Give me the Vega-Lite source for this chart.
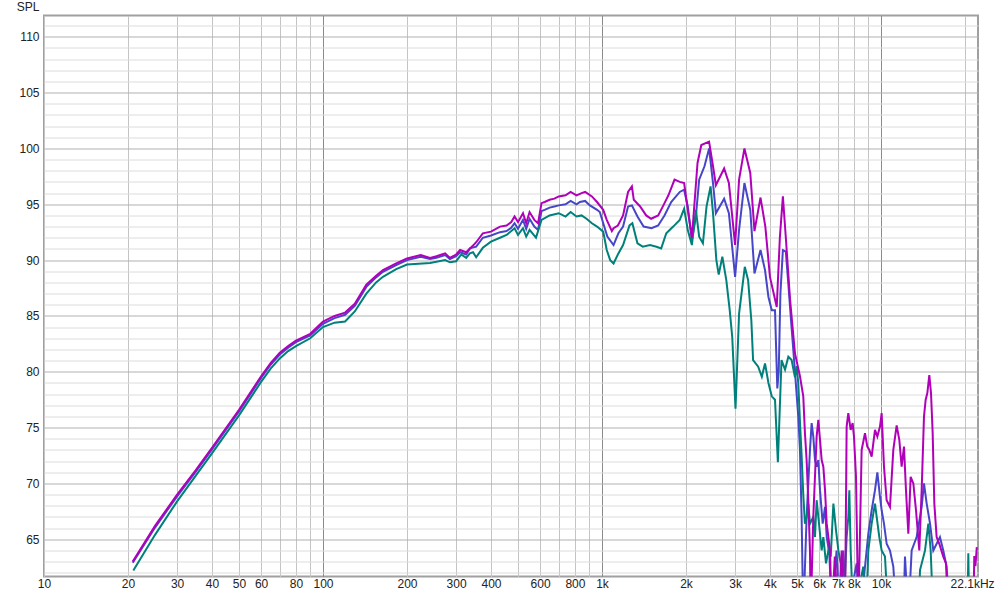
{
"$schema": "https://vega.github.io/schema/vega-lite/v6.json",
"width": 934, "height": 561, "autosize": "none",
"padding": {"left": 44, "top": 15.5, "right": 22, "bottom": 20.5},
"background": "white",
"config": {"view": {"stroke": "#a0a0a0", "strokeWidth": 2}, "font": "Liberation Sans"},
"data": {"values": [
{"s":"B","f":20.8,"v":62.9},{"s":"B","f":25,"v":66.05},{"s":"B","f":30,"v":68.85},{"s":"B","f":35,"v":71.05},{"s":"B","f":40,"v":73.05},{"s":"B","f":50,"v":76.45},{"s":"B","f":60,"v":79.45},{"s":"B","f":65,"v":80.65},{"s":"B","f":70,"v":81.55},{"s":"B","f":75,"v":82.15},{"s":"B","f":80,"v":82.65},{"s":"B","f":90,"v":83.25},{"s":"B","f":100,"v":84.3},{"s":"B","f":110,"v":84.8},{"s":"B","f":120,"v":85.1},{"s":"B","f":130,"v":85.9},{"s":"B","f":143,"v":87.6},{"s":"B","f":155,"v":88.45},{"s":"B","f":164,"v":88.95},{"s":"B","f":183,"v":89.55},{"s":"B","f":200,"v":90.0},{"s":"B","f":224,"v":90.3},{"s":"B","f":242,"v":90.1},{"s":"B","f":255,"v":90.2},{"s":"B","f":274,"v":90.45},{"s":"B","f":285,"v":90.1},{"s":"B","f":300,"v":90.35},{"s":"B","f":310,"v":90.7},{"s":"B","f":326,"v":90.5},{"s":"B","f":336,"v":91.05},{"s":"B","f":354,"v":91.2},{"s":"B","f":374,"v":92.0},{"s":"B","f":400,"v":92.2},{"s":"B","f":431,"v":92.5},{"s":"B","f":455,"v":92.6},{"s":"B","f":473,"v":92.9},{"s":"B","f":486,"v":93.3},{"s":"B","f":500,"v":92.8},{"s":"B","f":521,"v":93.6},{"s":"B","f":535,"v":92.8},{"s":"B","f":550,"v":93.7},{"s":"B","f":572,"v":93.0},{"s":"B","f":590,"v":92.7},{"s":"B","f":607,"v":94.4},{"s":"B","f":623,"v":94.5},{"s":"B","f":649,"v":94.7},{"s":"B","f":675,"v":94.8},{"s":"B","f":700,"v":94.9},{"s":"B","f":740,"v":95.0},{"s":"B","f":772,"v":95.3},{"s":"B","f":810,"v":95.0},{"s":"B","f":834,"v":95.2},{"s":"B","f":870,"v":95.3},{"s":"B","f":905,"v":94.9},{"s":"B","f":960,"v":94.5},{"s":"B","f":982,"v":94.3},{"s":"B","f":1045,"v":92.1},{"s":"B","f":1100,"v":91.35},{"s":"B","f":1145,"v":92.4},{"s":"B","f":1190,"v":93.0},{"s":"B","f":1240,"v":94.8},{"s":"B","f":1280,"v":94.9},{"s":"B","f":1340,"v":93.9},{"s":"B","f":1410,"v":93.0},{"s":"B","f":1505,"v":92.85},{"s":"B","f":1590,"v":93.1},{"s":"B","f":1675,"v":94.0},{"s":"B","f":1770,"v":95.2},{"s":"B","f":1900,"v":96.1},{"s":"B","f":1970,"v":96.3},{"s":"B","f":2030,"v":94.8},{"s":"B","f":2100,"v":91.8},{"s":"B","f":2170,"v":93.9},{"s":"B","f":2230,"v":97.2},{"s":"B","f":2330,"v":98.4},{"s":"B","f":2420,"v":100.0},{"s":"B","f":2500,"v":96.9},{"s":"B","f":2560,"v":94.2},{"s":"B","f":2740,"v":95.5},{"s":"B","f":2850,"v":94.2},{"s":"B","f":3000,"v":88.5},{"s":"B","f":3100,"v":92.7},{"s":"B","f":3240,"v":96.9},{"s":"B","f":3400,"v":94.5},{"s":"B","f":3520,"v":88.8},{"s":"B","f":3700,"v":90.9},{"s":"B","f":3840,"v":89.1},{"s":"B","f":3950,"v":86.7},{"s":"B","f":4060,"v":85.5},{"s":"B","f":4170,"v":85.5},{"s":"B","f":4250,"v":78.5},{"s":"B","f":4300,"v":80},{"s":"B","f":4360,"v":87},{"s":"B","f":4450,"v":90.9},{"s":"B","f":4560,"v":90.75},{"s":"B","f":4650,"v":88.0},{"s":"B","f":4780,"v":84.0},{"s":"B","f":4917,"v":80.0},{"s":"B","f":4984,"v":78.0},{"s":"B","f":5053,"v":76.0},{"s":"B","f":5124,"v":73.0},{"s":"B","f":5194,"v":67.0},{"s":"B","f":5266,"v":58},{"s":"B","f":5413,"v":67.0},{"s":"B","f":5565,"v":73.0},{"s":"B","f":5642,"v":75.4},{"s":"B","f":5720,"v":74.2},{"s":"B","f":5800,"v":72.1},{"s":"B","f":5880,"v":71.5},{"s":"B","f":5962,"v":72.1},{"s":"B","f":6045,"v":69.4},{"s":"B","f":6180,"v":66.4},{"s":"B","f":6301,"v":67.9},{"s":"B","f":6389,"v":65.2},{"s":"B","f":6531,"v":63.75},{"s":"B","f":6659,"v":58},{"s":"B","f":6930,"v":64},{"s":"B","f":7130,"v":58},{"s":"B","f":7328,"v":64},{"s":"B","f":7532,"v":58},{"s":"B","f":8180,"v":62.85},{"s":"B","f":8400,"v":58},{"s":"B","f":9008,"v":65.5},{"s":"B","f":9259,"v":67.6},{"s":"B","f":9517,"v":69.4},{"s":"B","f":9704,"v":71.0},{"s":"B","f":9918,"v":68.8},{"s":"B","f":10055,"v":67.6},{"s":"B","f":10251,"v":66.4},{"s":"B","f":10478,"v":64.6},{"s":"B","f":10771,"v":64.0},{"s":"B","f":11071,"v":62.55},{"s":"B","f":11380,"v":58},{"s":"B","f":12000,"v":57},{"s":"B","f":12190,"v":63.45},{"s":"B","f":12532,"v":58},{"s":"B","f":12880,"v":64},{"s":"B","f":13420,"v":65.2},{"s":"B","f":13990,"v":67.9},{"s":"B","f":14260,"v":70.0},{"s":"B","f":14580,"v":68.2},{"s":"B","f":14990,"v":66.4},{"s":"B","f":15400,"v":64},{"s":"B","f":15830,"v":64.6},{"s":"B","f":16270,"v":65.2},{"s":"B","f":16720,"v":64},{"s":"B","f":17190,"v":62.55},{"s":"B","f":17670,"v":58},
{"s":"T","f":20.9,"v":62.2},{"s":"T","f":25,"v":65.4},{"s":"T","f":30,"v":68.4},{"s":"T","f":35,"v":70.7},{"s":"T","f":40,"v":72.7},{"s":"T","f":50,"v":76.1},{"s":"T","f":60,"v":79.1},{"s":"T","f":65,"v":80.3},{"s":"T","f":70,"v":81.2},{"s":"T","f":75,"v":81.85},{"s":"T","f":80,"v":82.3},{"s":"T","f":90,"v":83.0},{"s":"T","f":100,"v":84.0},{"s":"T","f":110,"v":84.4},{"s":"T","f":120,"v":84.5},{"s":"T","f":130,"v":85.4},{"s":"T","f":143,"v":87.0},{"s":"T","f":155,"v":88.0},{"s":"T","f":164,"v":88.5},{"s":"T","f":183,"v":89.2},{"s":"T","f":200,"v":89.6},{"s":"T","f":242,"v":89.75},{"s":"T","f":274,"v":90.0},{"s":"T","f":285,"v":89.8},{"s":"T","f":300,"v":89.9},{"s":"T","f":313,"v":90.5},{"s":"T","f":326,"v":90.2},{"s":"T","f":336,"v":90.6},{"s":"T","f":345,"v":90.7},{"s":"T","f":354,"v":90.25},{"s":"T","f":374,"v":91.1},{"s":"T","f":400,"v":91.65},{"s":"T","f":431,"v":92.0},{"s":"T","f":455,"v":92.25},{"s":"T","f":486,"v":92.85},{"s":"T","f":500,"v":92.25},{"s":"T","f":521,"v":92.85},{"s":"T","f":535,"v":92.1},{"s":"T","f":550,"v":92.7},{"s":"T","f":580,"v":92.0},{"s":"T","f":607,"v":93.6},{"s":"T","f":649,"v":94.0},{"s":"T","f":700,"v":94.2},{"s":"T","f":740,"v":93.9},{"s":"T","f":772,"v":94.3},{"s":"T","f":810,"v":93.9},{"s":"T","f":845,"v":94.0},{"s":"T","f":880,"v":93.7},{"s":"T","f":920,"v":93.3},{"s":"T","f":960,"v":93.0},{"s":"T","f":1010,"v":92.55},{"s":"T","f":1040,"v":90.9},{"s":"T","f":1070,"v":90.0},{"s":"T","f":1100,"v":89.7},{"s":"T","f":1145,"v":90.6},{"s":"T","f":1190,"v":91.35},{"s":"T","f":1255,"v":93.1},{"s":"T","f":1285,"v":93.3},{"s":"T","f":1340,"v":91.5},{"s":"T","f":1400,"v":91.2},{"s":"T","f":1486,"v":91.35},{"s":"T","f":1568,"v":91.2},{"s":"T","f":1630,"v":91.05},{"s":"T","f":1700,"v":92.4},{"s":"T","f":1800,"v":93.0},{"s":"T","f":1900,"v":93.6},{"s":"T","f":1970,"v":94.6},{"s":"T","f":2030,"v":92.7},{"s":"T","f":2100,"v":91.35},{"s":"T","f":2170,"v":94.5},{"s":"T","f":2230,"v":92.1},{"s":"T","f":2300,"v":91.5},{"s":"T","f":2370,"v":94.8},{"s":"T","f":2450,"v":96.6},{"s":"T","f":2500,"v":94.2},{"s":"T","f":2570,"v":90.0},{"s":"T","f":2620,"v":88.7},{"s":"T","f":2700,"v":90.3},{"s":"T","f":2790,"v":88.2},{"s":"T","f":2870,"v":85.5},{"s":"T","f":2930,"v":83.1},{"s":"T","f":3010,"v":76.7},{"s":"T","f":3100,"v":85.2},{"s":"T","f":3250,"v":89.4},{"s":"T","f":3340,"v":88.2},{"s":"T","f":3430,"v":84.6},{"s":"T","f":3480,"v":81.05},{"s":"T","f":3630,"v":80.45},{"s":"T","f":3740,"v":79.55},{"s":"T","f":3840,"v":80.75},{"s":"T","f":3950,"v":79.0},{"s":"T","f":4060,"v":77.8},{"s":"T","f":4170,"v":77.5},{"s":"T","f":4270,"v":71.9},{"s":"T","f":4400,"v":81.05},{"s":"T","f":4530,"v":80.2},{"s":"T","f":4655,"v":81.35},{"s":"T","f":4783,"v":81.05},{"s":"T","f":4917,"v":79.5},{"s":"T","f":4984,"v":80.5},{"s":"T","f":5053,"v":79.0},{"s":"T","f":5124,"v":75.5},{"s":"T","f":5194,"v":72.5},{"s":"T","f":5266,"v":69.0},{"s":"T","f":5339,"v":66.4},{"s":"T","f":5413,"v":67.0},{"s":"T","f":5488,"v":68.2},{"s":"T","f":5565,"v":66.4},{"s":"T","f":5720,"v":67.0},{"s":"T","f":5800,"v":65.2},{"s":"T","f":5880,"v":68.5},{"s":"T","f":6012,"v":66.1},{"s":"T","f":6129,"v":64.0},{"s":"T","f":6214,"v":65.2},{"s":"T","f":6353,"v":62.85},{"s":"T","f":6477,"v":64.0},{"s":"T","f":6604,"v":63.45},{"s":"T","f":6751,"v":68.2},{"s":"T","f":6900,"v":65.8},{"s":"T","f":7034,"v":64.0},{"s":"T","f":7170,"v":62.85},{"s":"T","f":7328,"v":58},{"s":"T","f":7532,"v":65.2},{"s":"T","f":7637,"v":67.0},{"s":"T","f":7701,"v":69.4},{"s":"T","f":7786,"v":64.0},{"s":"T","f":7958,"v":58},{"s":"T","f":8640,"v":62.55},{"s":"T","f":8830,"v":58},{"s":"T","f":9008,"v":64.0},{"s":"T","f":9259,"v":66.4},{"s":"T","f":9517,"v":68.2},{"s":"T","f":9650,"v":67.0},{"s":"T","f":9863,"v":65.2},{"s":"T","f":10055,"v":64.0},{"s":"T","f":10335,"v":63.45},{"s":"T","f":10624,"v":58},{"s":"T","f":13600,"v":57},{"s":"T","f":13800,"v":62.25},{"s":"T","f":14380,"v":64.0},{"s":"T","f":14780,"v":66.4},{"s":"T","f":15070,"v":64.0},{"s":"T","f":15400,"v":58},{"s":"T","f":20400,"v":58},{"s":"T","f":20560,"v":63.75},{"s":"T","f":20730,"v":58},
{"s":"M","f":20.8,"v":63.0},{"s":"M","f":25,"v":66.2},{"s":"M","f":30,"v":69.0},{"s":"M","f":35,"v":71.2},{"s":"M","f":40,"v":73.2},{"s":"M","f":50,"v":76.6},{"s":"M","f":60,"v":79.6},{"s":"M","f":65,"v":80.8},{"s":"M","f":70,"v":81.7},{"s":"M","f":75,"v":82.3},{"s":"M","f":80,"v":82.8},{"s":"M","f":90,"v":83.4},{"s":"M","f":100,"v":84.5},{"s":"M","f":110,"v":85.0},{"s":"M","f":120,"v":85.3},{"s":"M","f":130,"v":86.1},{"s":"M","f":143,"v":87.8},{"s":"M","f":155,"v":88.6},{"s":"M","f":164,"v":89.1},{"s":"M","f":183,"v":89.7},{"s":"M","f":200,"v":90.15},{"s":"M","f":224,"v":90.45},{"s":"M","f":242,"v":90.2},{"s":"M","f":255,"v":90.35},{"s":"M","f":274,"v":90.6},{"s":"M","f":285,"v":90.2},{"s":"M","f":300,"v":90.5},{"s":"M","f":310,"v":90.9},{"s":"M","f":326,"v":90.7},{"s":"M","f":345,"v":91.3},{"s":"M","f":354,"v":91.6},{"s":"M","f":374,"v":92.4},{"s":"M","f":400,"v":92.55},{"s":"M","f":431,"v":93.0},{"s":"M","f":455,"v":93.1},{"s":"M","f":473,"v":93.4},{"s":"M","f":486,"v":93.9},{"s":"M","f":500,"v":93.4},{"s":"M","f":521,"v":94.2},{"s":"M","f":535,"v":93.3},{"s":"M","f":550,"v":94.3},{"s":"M","f":572,"v":93.6},{"s":"M","f":590,"v":93.3},{"s":"M","f":607,"v":95.1},{"s":"M","f":623,"v":95.2},{"s":"M","f":649,"v":95.4},{"s":"M","f":675,"v":95.5},{"s":"M","f":700,"v":95.7},{"s":"M","f":740,"v":95.8},{"s":"M","f":772,"v":96.1},{"s":"M","f":810,"v":95.8},{"s":"M","f":845,"v":96.0},{"s":"M","f":870,"v":96.1},{"s":"M","f":920,"v":95.7},{"s":"M","f":960,"v":95.2},{"s":"M","f":1010,"v":94.5},{"s":"M","f":1040,"v":93.6},{"s":"M","f":1085,"v":92.6},{"s":"M","f":1100,"v":92.85},{"s":"M","f":1140,"v":93.1},{"s":"M","f":1190,"v":94.0},{"s":"M","f":1240,"v":96.1},{"s":"M","f":1280,"v":96.6},{"s":"M","f":1300,"v":95.4},{"s":"M","f":1370,"v":94.8},{"s":"M","f":1440,"v":94.0},{"s":"M","f":1500,"v":93.7},{"s":"M","f":1590,"v":94.0},{"s":"M","f":1660,"v":94.9},{"s":"M","f":1730,"v":95.8},{"s":"M","f":1820,"v":97.2},{"s":"M","f":1900,"v":97.0},{"s":"M","f":1970,"v":96.9},{"s":"M","f":2030,"v":94.5},{"s":"M","f":2100,"v":92.0},{"s":"M","f":2200,"v":98.7},{"s":"M","f":2270,"v":100.3},{"s":"M","f":2420,"v":100.6},{"s":"M","f":2500,"v":98.4},{"s":"M","f":2560,"v":96.7},{"s":"M","f":2740,"v":98.2},{"s":"M","f":2850,"v":96.9},{"s":"M","f":3000,"v":91.35},{"s":"M","f":3100,"v":97.2},{"s":"M","f":3240,"v":100.0},{"s":"M","f":3400,"v":97.8},{"s":"M","f":3520,"v":92.6},{"s":"M","f":3700,"v":95.6},{"s":"M","f":3850,"v":93.0},{"s":"M","f":4000,"v":88.5},{"s":"M","f":4230,"v":85.8},{"s":"M","f":4340,"v":92.0},{"s":"M","f":4450,"v":95.7},{"s":"M","f":4560,"v":92.0},{"s":"M","f":4720,"v":86.5},{"s":"M","f":4800,"v":84.5},{"s":"M","f":4917,"v":81.65},{"s":"M","f":5124,"v":79.6},{"s":"M","f":5266,"v":77.8},{"s":"M","f":5339,"v":74.5},{"s":"M","f":5413,"v":72.1},{"s":"M","f":5488,"v":68.5},{"s":"M","f":5565,"v":64.0},{"s":"M","f":5596,"v":58},{"s":"M","f":5720,"v":67.0},{"s":"M","f":5880,"v":74.2},{"s":"M","f":5962,"v":75.7},{"s":"M","f":6045,"v":73.9},{"s":"M","f":6129,"v":72.1},{"s":"M","f":6214,"v":71.5},{"s":"M","f":6301,"v":69.4},{"s":"M","f":6389,"v":66.4},{"s":"M","f":6568,"v":64.0},{"s":"M","f":6659,"v":58},{"s":"M","f":6830,"v":63.45},{"s":"M","f":7034,"v":58},{"s":"M","f":7230,"v":64},{"s":"M","f":7430,"v":58},{"s":"M","f":7532,"v":75.1},{"s":"M","f":7637,"v":76.3},{"s":"M","f":7786,"v":74.8},{"s":"M","f":7914,"v":75.4},{"s":"M","f":8002,"v":74.2},{"s":"M","f":8136,"v":70.6},{"s":"M","f":8293,"v":58},{"s":"M","f":8524,"v":73.0},{"s":"M","f":8763,"v":74.5},{"s":"M","f":8933,"v":73.3},{"s":"M","f":9083,"v":73.0},{"s":"M","f":9259,"v":72.4},{"s":"M","f":9517,"v":74.8},{"s":"M","f":9704,"v":74.2},{"s":"M","f":9918,"v":75.1},{"s":"M","f":10055,"v":76.3},{"s":"M","f":10251,"v":71.5},{"s":"M","f":10478,"v":68.5},{"s":"M","f":10771,"v":67.9},{"s":"M","f":11071,"v":73.0},{"s":"M","f":11380,"v":75.2},{"s":"M","f":11632,"v":73.9},{"s":"M","f":11859,"v":71.5},{"s":"M","f":12090,"v":73.3},{"s":"M","f":12290,"v":69.4},{"s":"M","f":12532,"v":65.5},{"s":"M","f":12773,"v":70.6},{"s":"M","f":13060,"v":70.0},{"s":"M","f":13350,"v":67.6},{"s":"M","f":13720,"v":64.0},{"s":"M","f":13990,"v":69.4},{"s":"M","f":14260,"v":76.0},{"s":"M","f":14460,"v":77.5},{"s":"M","f":14660,"v":78.1},{"s":"M","f":14900,"v":79.7},{"s":"M","f":15110,"v":78.1},{"s":"M","f":15320,"v":74.5},{"s":"M","f":15530,"v":68.2},{"s":"M","f":15830,"v":65.2},{"s":"M","f":16180,"v":64.6},{"s":"M","f":16720,"v":63.45},{"s":"M","f":17100,"v":62.85},{"s":"M","f":17430,"v":58},{"s":"M","f":21300,"v":55},{"s":"M","f":21600,"v":63.5},{"s":"M","f":21800,"v":62.6},{"s":"M","f":22050,"v":64.3}
]},
"mark": {"type": "line", "strokeWidth": 2, "clip": true},
"encoding": {
  "x": {"field": "f", "type": "quantitative",
    "scale": {"type": "log", "domain": [10, 22270], "nice": false},
    "axis": {
      "values": [10,20,30,40,50,60,70,80,90,100,200,300,400,500,600,700,800,900,1000,2000,3000,4000,5000,6000,7000,8000,9000,10000,20000,22100],
      "labelExpr": "indexof([70,90,500,700,900,9000,20000], datum.value) >= 0 ? '' : (datum.value == 22100 ? '22.1kHz' : (datum.value >= 1000 ? (datum.value/1000) + 'k' : '' + datum.value))",
      "title": null, "ticks": false, "domain": false,
      "labelOverlap": false, "labelFlush": false, "labelBound": false,
      "labelPadding": 2, "labelFontSize": 12, "labelColor": "#222222", "labelFont": "Liberation Sans",
      "grid": true, "gridWidth": 1,
      "gridColor": {"condition": {"test": "datum.value == 100 || datum.value == 1000 || datum.value == 10000", "value": "#8a8a8a"}, "value": "#c4c4c4"},
      "gridOpacity": {"condition": {"test": "datum.value == 22100", "value": 0}, "value": 1},
      "labelOffset": {"condition": {"test": "datum.value == 22100", "value": -5}, "value": 0}
    }},
  "y": {"field": "v", "type": "quantitative",
    "scale": {"domain": [61.67, 111.9], "nice": false, "zero": false},
    "axis": {
      "values": [62,63,64,65,66,67,68,69,70,71,72,73,74,75,76,77,78,79,80,81,82,83,84,85,86,87,88,89,90,91,92,93,94,95,96,97,98,99,100,101,102,103,104,105,106,107,108,109,110,111],
      "labelExpr": "datum.value % 5 == 0 ? datum.label : ''",
      "title": "SPL", "titleAngle": 0, "titleAlign": "right", "titleBaseline": "middle",
      "titleX": -5, "titleY": -9, "titleFontSize": 12, "titleFontWeight": "normal", "titleColor": "#222222", "titleFont": "Liberation Sans",
      "ticks": false, "domain": false, "labelPadding": 5, "labelFontSize": 12, "labelColor": "#222222", "labelFont": "Liberation Sans",
      "labelOverlap": false, "labelFlush": false,
      "grid": true, "gridWidth": 1,
      "gridColor": {"condition": {"test": "datum.value % 5 == 0", "value": "#b0b0b0"}, "value": "#dcdcdc"}
    }},
  "color": {"field": "s", "type": "nominal", "scale": {"domain": ["B", "T", "M"], "range": ["#4646c8", "#00807a", "#b000b8"]}, "legend": null}
}
}
